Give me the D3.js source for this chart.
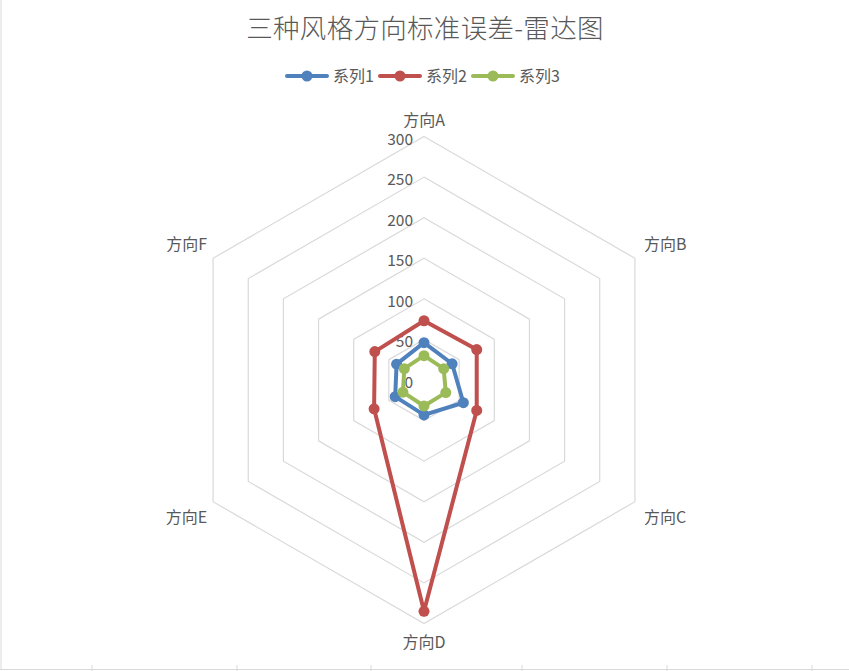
<!DOCTYPE html>
<html>
<head>
<meta charset="utf-8">
<script src="https://cdn.jsdelivr.net/npm/d3@7"></script>
<style>
  body { margin: 0; background: #fff; }
  text { font-family: "Noto Sans CJK SC", "Noto Sans", sans-serif; fill: #595959; }
</style>
</head>
<body>
<div id="chart"></div>
<script>
// data
const directions = ["方向A", "方向B", "方向C", "方向D", "方向E", "方向F"];
const seriesNames = ["系列1", "系列2", "系列3"];
const series1 = [46, 40, 56, 43, 41, 39];
const series2 = [73, 75, 75, 285, 71, 70];
const series3 = [30, 28, 31, 32, 30, 28];
const ticks = [0, 50, 100, 150, 200, 250, 300];
const colors = ["#4F81BD", "#C0504D", "#9BBB59"];

const width = 849;
const height = 671;
const cx = 424, cy = 380, R = 243.5;

const svg = d3.select("#chart")
    .append("svg")
    .attr("width", width)
    .attr("height", height);

// sheet cell lines peeking in at the edges
svg.append("line").attr("x1", 1).attr("x2", 1).attr("y1", 0).attr("y2", 669)
    .attr("stroke", "#D9D9D9");
svg.append("line").attr("x1", 0).attr("x2", width).attr("y1", 669.5).attr("y2", 669.5)
    .attr("stroke", "#D9D9D9");
[92, 237, 371, 522, 667, 812].forEach(x => {
    svg.append("line").attr("x1", x).attr("x2", x).attr("y1", 665).attr("y2", 671)
        .attr("stroke", "#D9D9D9");
});

const r = d3.scaleLinear().domain([0, 300]).range([0, R]);
const angle = d3.scalePoint().domain(directions).range([0, 2 * Math.PI * 5 / 6]);

const pt = (dir, v) => {
    const a = angle(dir);
    return [cx + r(v) * Math.sin(a), cy - r(v) * Math.cos(a)];
};

// title
svg.append("text")
    .attr("x", 425).attr("y", 38)
    .attr("text-anchor", "middle")
    .style("font-size", "26.5px")
    .style("font-weight", 300)
    .style("letter-spacing", "0.3px")
    .text("三种风格方向标准误差-雷达图");

// hexagon grid
ticks.filter(t => t > 0).forEach(t => {
    svg.append("polygon")
        .attr("points", directions.map(d => pt(d, t).join(",")).join(" "))
        .attr("fill", "none")
        .attr("stroke", "#D9D9D9")
        .attr("stroke-width", 1.2);
});

// tick labels
svg.selectAll(".tick")
    .data(ticks)
    .enter().append("text")
    .attr("class", "tick")
    .attr("x", cx - 11)
    .attr("y", d => cy - r(d) + 8)
    .attr("text-anchor", "end")
    .style("font-size", "15.5px")
    .text(d => d);

// direction labels
directions.forEach(d => {
    const [x, y] = pt(d, 300);
    const a = angle(d);
    const s = Math.sin(a), c = Math.cos(a);
    let tx = x, ty = y, anchor = "middle";
    if (Math.abs(s) < 0.1) {
        ty = c > 0 ? y - 11 : y + 24;
    } else {
        anchor = s > 0 ? "start" : "end";
        tx = x + (s > 0 ? 9 : -6);
        ty = c > 0 ? y - 8 : y + 21;
    }
    svg.append("text")
        .attr("x", tx).attr("y", ty)
        .attr("text-anchor", anchor)
        .style("font-size", "16px")
        .text(d);
});

// series
const allSeries = [series1, series2, series3];
const line = d3.line().curve(d3.curveLinearClosed);

allSeries.forEach((vals, i) => {
    const pts = directions.map((d, j) => pt(d, vals[j]));
    svg.append("path")
        .attr("d", line(pts))
        .attr("fill", "none")
        .attr("stroke", colors[i])
        .attr("stroke-width", 4)
        .attr("stroke-linejoin", "round");
    svg.selectAll(".m" + i)
        .data(pts)
        .enter().append("circle")
        .attr("class", "m" + i)
        .attr("cx", p => p[0])
        .attr("cy", p => p[1])
        .attr("r", 5.5)
        .attr("fill", colors[i]);
});

// legend
const legendX = [287, 380, 473];
seriesNames.forEach((name, i) => {
    const g = svg.append("g").attr("transform", `translate(${legendX[i]},76)`);
    g.append("line").attr("x1", 0).attr("x2", 40)
        .attr("stroke", colors[i]).attr("stroke-width", 4).attr("stroke-linecap", "round");
    g.append("circle").attr("cx", 20).attr("r", 5.5).attr("fill", colors[i]);
    g.append("text").attr("x", 46).attr("y", 6)
        .style("font-size", "16px")
        .text(name);
});
</script>
</body>
</html>
